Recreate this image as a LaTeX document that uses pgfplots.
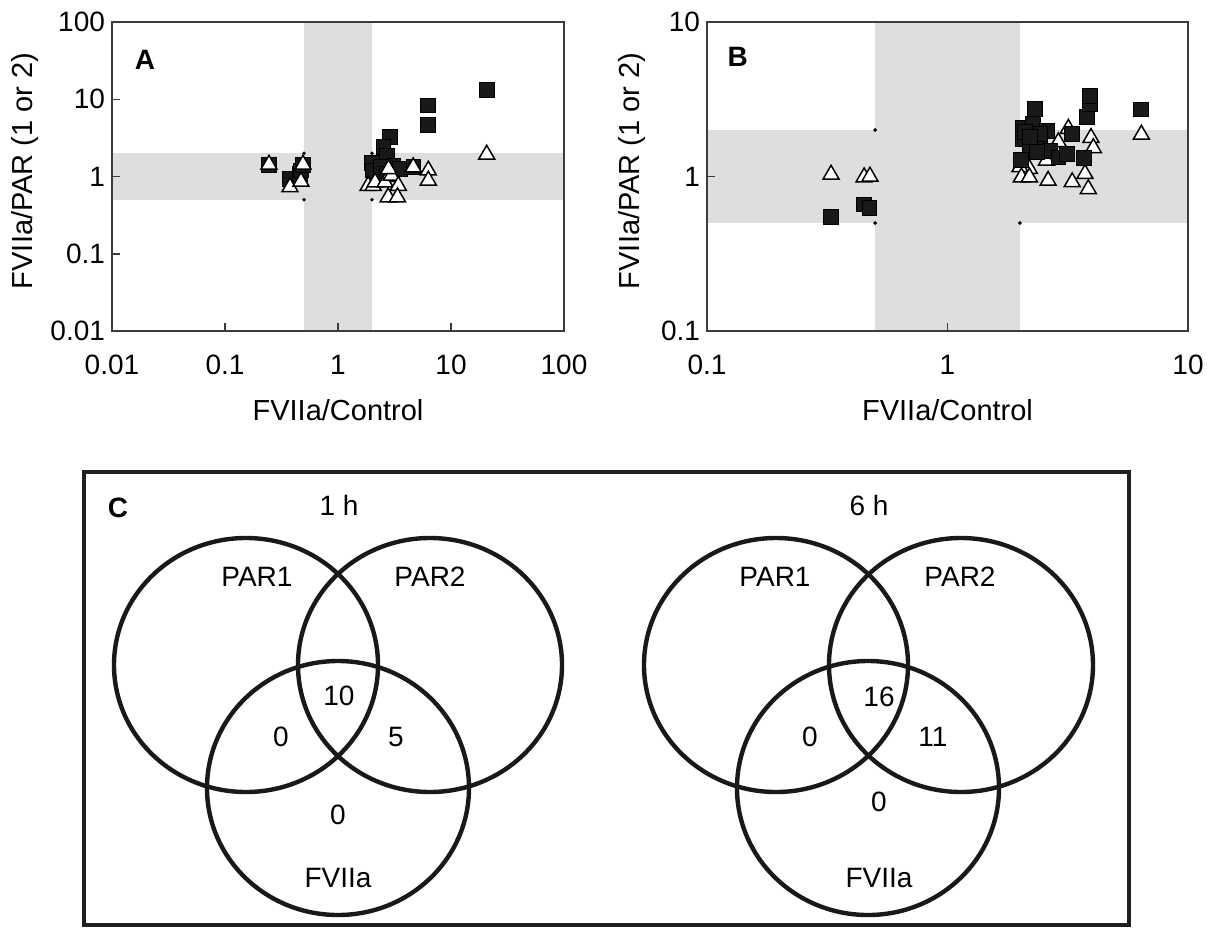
\documentclass[border=0pt]{standalone}
\usepackage{fontspec}
\setmainfont{Liberation Sans}
\usepackage{pgfplots}
\pgfplotsset{compat=1.18}

\definecolor{axisgray}{RGB}{60,60,60}
\definecolor{band}{RGB}{222,222,222}
\definecolor{sqfill}{RGB}{25,25,25}

\pgfplotsset{
  panel/.style={
    anchor=south west, scale only axis, height=154.5pt,
    xminorticks=false, yminorticks=false,
    tick pos=left, tick align=inside, major tick length=4pt,
    axis line style={draw=axisgray, line width=0.75pt},
    every tick/.style={draw=axisgray, line width=0.75pt},
    tick label style={font=\fontsize{14}{16}\selectfont},
    xticklabel style={yshift=-8.5pt},
    label style={font=\fontsize{14.5}{16}\selectfont},
    xlabel={FVIIa/Control}, ylabel={FVIIa/PAR (1 or 2)},
    xlabel style={at={(axis description cs:0.5,-0.256)}, anchor=center},
    axis on top, clip=false,
  },
  sq/.style={only marks, mark=square*, mark size=3.7pt,
    mark options={fill=sqfill, draw=black, line width=0.3pt}},
  tri/.style={only marks, mark=triangle*, mark size=4.6pt,
    mark options={fill=white, draw=black, line width=0.75pt}},
  dots/.style={only marks, mark=*, mark size=0.7pt, black},
}

\begin{document}
\begin{tikzpicture}
\path[use as bounding box] (0,0) rectangle (610.5pt,463.5pt);

% panel A
\begin{axis}[xmode=log, ymode=log, panel, at={(56pt,298pt)}, width=226pt,
  xmin=0.01, xmax=100, ymin=0.01, ymax=100,
  xtick={0.01,0.1,1,10,100}, xticklabels={0.01,0.1,1,10,100},
  ytick={0.01,0.1,1,10,100}, yticklabels={0.01,0.1,1,10,100},
  ylabel style={at={(axis description cs:-0.1925,0.518)}, anchor=center}]
\fill[band] (axis cs:0.5,0.01) rectangle (axis cs:2,100);
\fill[band] (axis cs:0.01,0.5) rectangle (axis cs:100,2);
\addplot[dots] coordinates {(0.5,0.5)(0.5,2)(2,0.5)(2,2)};
\addplot[sq] coordinates {
  (0.245,1.43)(0.376,0.93)(0.461,1.09)(0.47,1.2)(0.49,1.43)
  (2.89,3.24)(2.52,2.40)(2.7,1.87)(1.99,1.49)(2.0,1.53)(2.13,1.14)
  (2.03,1.2)(2.37,1.32)(3.08,1.39)(2.7,1.08)(3.54,1.26)(4.63,1.32)
  (6.22,8.36)(6.22,4.69)(20.7,13.1)};
\addplot[tri] coordinates {
  (0.245,1.43)(0.376,0.73)(0.47,0.86)(0.49,1.43)
  (1.85,0.76)(2.05,0.76)(2.13,0.84)(2.61,0.84)(2.89,1.08)(2.97,1.03)
  (2.8,1.25)(3.42,0.76)(2.78,0.54)(3.36,0.54)(4.63,1.32)
  (6.3,1.2)(6.3,0.89)(20.7,1.93)};
\node[font=\bfseries\fontsize{14}{16}\selectfont] at (rel axis cs:0.073,0.877) {A};
\end{axis}

% panel B
\begin{axis}[xmode=log, ymode=log, panel, at={(353.5pt,298pt)}, width=240.5pt,
  xmin=0.1, xmax=10, ymin=0.1, ymax=10,
  xtick={0.1,1,10}, xticklabels={0.1,1,10},
  ytick={0.1,1,10}, yticklabels={0.1,1,10},
  ylabel style={at={(axis description cs:-0.156,0.518)}, anchor=center}]
\fill[band] (axis cs:0.5,0.1) rectangle (axis cs:2,10);
\fill[band] (axis cs:0.1,0.5) rectangle (axis cs:10,2);
\addplot[dots] coordinates {(0.5,0.5)(0.5,2)(2,0.5)(2,2)};
\addplot[tri] coordinates {
  (0.328,1.03)(0.45,0.99)(0.476,1.0)
  (3.18,2.04)(2.89,1.67)(2.58,1.27)(2.19,1.12)(2.0,1.15)(2.03,0.99)
  (2.19,0.99)(2.62,0.94)(3.3,0.92)(3.73,1.04)(3.85,0.83)(3.95,1.78)
  (4.04,1.53)(6.4,1.87)};
\addplot[sq] coordinates {
  (0.326,0.55)(0.447,0.66)(0.473,0.63)
  (2.30,2.74)(2.06,2.08)(2.06,1.75)(2.27,2.19)(2.58,1.98)(2.43,1.63)
  (2.43,1.89)(2.19,1.55)(2.67,1.47)(2.89,1.33)(3.13,1.40)(3.28,1.89)
  (2.02,1.29)(3.70,1.32)(3.79,2.42)(3.91,2.95)(3.91,3.34)(6.38,2.72)
  (2.1,1.95)(2.35,1.45)(2.2,1.8)};
\node[font=\bfseries\fontsize{14}{16}\selectfont] at (rel axis cs:0.064,0.887) {B};
\end{axis}

% panel C: Venn diagrams
\begin{axis}[at={(0pt,0pt)}, anchor=south west, scale only axis,
  width=610.5pt, height=463.5pt, hide axis, clip=false,
  xmin=0, xmax=1221, ymin=0, ymax=927, y dir=reverse]
\draw[line width=2pt, black!88] (axis cs:84,472) rectangle (axis cs:1129,925);
\begin{scope}[line width=2.2pt, black!90]
\draw (axis cs:246,665) ellipse [x radius=66pt, y radius=63.5pt];
\draw (axis cs:430,665) ellipse [x radius=66pt, y radius=63.5pt];
\draw (axis cs:338,788) ellipse [x radius=65.5pt, y radius=63.5pt];
\draw (axis cs:776,665) ellipse [x radius=66pt, y radius=63.5pt];
\draw (axis cs:961,665) ellipse [x radius=66pt, y radius=63.5pt];
\draw (axis cs:868,788) ellipse [x radius=65.5pt, y radius=63.5pt];
\end{scope}
\begin{scope}[every node/.style={font=\fontsize{14}{16}\selectfont, inner sep=0pt}]
\node[font=\bfseries\fontsize{14}{16}\selectfont] at (axis cs:118,508) {C};
\node at (axis cs:339,505) {1 h};
\node at (axis cs:257,577) {PAR1};
\node at (axis cs:430,577) {PAR2};
\node at (axis cs:339,696) {10};
\node at (axis cs:281,737) {0};
\node at (axis cs:396,737) {5};
\node at (axis cs:338,815) {0};
\node at (axis cs:338,878) {FVIIa};
\node at (axis cs:869,505) {6 h};
\node at (axis cs:775,577) {PAR1};
\node at (axis cs:960,577) {PAR2};
\node at (axis cs:879,697) {16};
\node at (axis cs:810,737) {0};
\node at (axis cs:933,737) {11};
\node at (axis cs:879,802) {0};
\node at (axis cs:879,878) {FVIIa};
\end{scope}
\end{axis}
\end{tikzpicture}
\end{document}
